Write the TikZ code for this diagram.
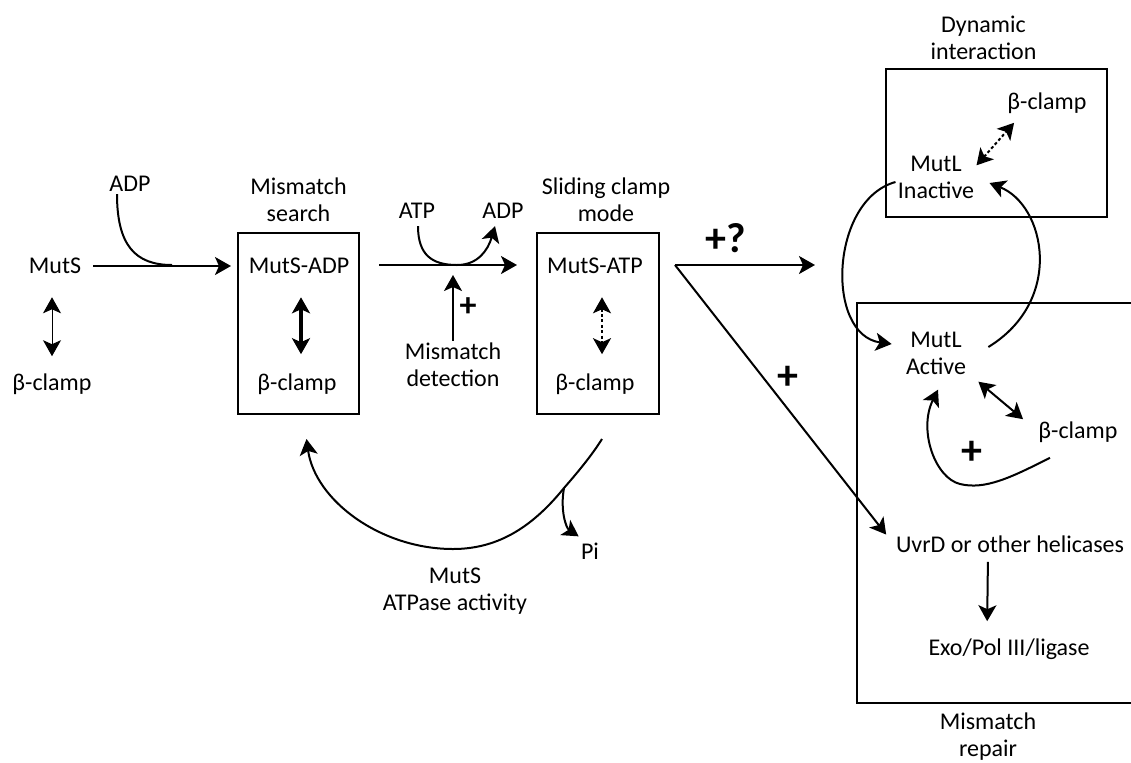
\documentclass[tikz,border=0pt]{standalone}
\usepackage{fontspec}
\setmainfont{Carlito}
\usetikzlibrary{arrows.meta,positioning,calc}

\begin{document}
\begin{tikzpicture}[x=0.5pt, y=-0.5pt,
  >={Stealth[length=8pt,width=9pt,inset=2pt]},
  every node/.style = {font=\fontsize{12}{13.5}\selectfont, align=center, inner sep=1pt},
  stage/.style = {draw, line width=1pt, minimum width=60.5pt, minimum height=90.5pt},
  flow/.style = {line width=1pt, ->},
  bind/.style = {line width=1pt, <->},
  weak/.style = {line width=1pt, <->, dash pattern=on 1.5pt off 1.2pt},
  sign/.style = {font=\fontsize{21}{22}\selectfont\bfseries},
  ]
  \useasboundingbox (0,0) rectangle (1131,762);

  % free MutS and clamp
  \node (muts) at (55,266) {MutS};
  \node (clamp0) at (52,384) {β-clamp};

  % mismatch search
  \node[stage] (search) at (298.5,323.5) {};
  \node[above=4pt of search] {Mismatch\\search};
  \node (mutsadp) at (299,266) {MutS-ADP};
  \node (clamp1) at (297,384) {β-clamp};

  \node (adp1) at (130,184) {ADP};
  \node (atp) at (417,211) {ATP};
  \node (adp2) at (503,211) {ADP};
  \node (detect) at (453,365) {Mismatch\\detection};

  % sliding clamp
  \node[stage, minimum width=61pt] (sliding) at (598,323.5) {};
  \node[above=4pt of sliding, xshift=4pt] {Sliding clamp\\mode};
  \node (mutsatp) at (595,266) {MutS-ATP};
  \node (clamp2) at (595,384) {β-clamp};

  \node[sign] at (726,238) {+?};
  \node[sign] at (788,378) {+};
  \node[sign, font=\fontsize{17}{18}\selectfont\bfseries] at (468,307) {+};

  % dynamic interaction
  \node[draw, line width=1pt, minimum width=110.5pt, minimum height=74pt] (dynamic) at (996.5,143) {};
  \node[above=3pt of dynamic, xshift=-6.5pt] {Dynamic\\interaction};
  \node (clamp3) at (1047,103) {β-clamp};
  \node (inactive) at (936,177) {MutL\\Inactive};

  % mismatch repair
  \node[draw, line width=1pt, minimum width=160pt, minimum height=200pt, anchor=north west] (repair) at (856,302) {};
  \node at (988,737) {Mismatch\\repair};
  \node (active) at (936,353) {MutL\\Active};
  \node (clamp4) at (1078,432) {β-clamp};
  \node[sign] at (972,453) {+};
  \node (uvrd) at (1010,544) {UvrD or other helicases};
  \node (exo) at (1009,649) {Exo/Pol III/ligase};

  % hydrolysis
  \node (pi) at (590,551) {Pi};
  \node (atpase) at (455,591) {MutS\\ATPase activity};

  \coordinate (j1) at (172,265);
  \coordinate (j2) at (457,265);
  \coordinate (fork) at (675,265);
  \coordinate (toward) at (815,265);
  \coordinate (hyd) at (564,488);

  \draw[line width=0.5pt, <->, shorten <=10.5pt, shorten >=7.5pt] (muts.south -| clamp0) -- (clamp0.north);
  \draw[flow, shorten <=5pt, shorten >=3pt] (muts.east) -- (muts.east -| search.west);
  \draw[line width=1pt] ([xshift=-6.5pt]adp1.south) .. controls (117,245) and (135,265) .. (j1);

  \draw[line width=2pt, <->, shorten <=10.5pt, shorten >=8.5pt] ([xshift=1pt]mutsadp.south) -- ([xshift=1pt]mutsadp.south |- clamp1.north);

  \draw[flow, shorten <=9.5pt, shorten >=9.5pt] (search.east |- j2) -- (sliding.west |- j2);
  \draw[flow] ([xshift=0.5pt,yshift=-2.5pt]atp.south) .. controls (418,255) and (432,265) .. (j2)
    .. controls (478,265) and (488,250) .. ([xshift=-4pt,yshift=-2.5pt]adp2.south);
  \draw[flow, shorten >=5pt] (detect.north) -- (detect.north |- j2);

  \draw[weak, shorten <=10.5pt, shorten >=8.5pt] ([xshift=3.5pt]mutsatp.south) -- ([xshift=3.5pt]mutsatp.south |- clamp2.north);

  \draw[flow] (fork) -- (toward);
  \draw[flow, shorten >=6pt] (fork) -- (uvrd.west);

  \draw[flow] ([xshift=2pt,yshift=-12pt]sliding.south) .. controls (592,455) and (578,472) .. (hyd)
    .. controls (530,530) and (495,549) .. (453,549)
    .. controls (380,549) and (315,500) .. ([xshift=4pt,yshift=-12pt]search.south);
  \draw[flow] (hyd) .. controls (560,510) and (566,528) .. ([yshift=2pt]pi.north west);

  \draw[weak] ([yshift=-6pt]inactive.north east) -- ([xshift=4.5pt,yshift=-3.5pt]clamp3.south west);
  \draw[flow] ([yshift=-2.5pt]inactive.west) .. controls (830,200) and (825,335) .. ([xshift=-6pt,yshift=4.5pt]active.west);
  \draw[flow] ([xshift=10pt,yshift=3pt]active.east) .. controls (1065,300) and (1045,205) .. ([xshift=6.5pt,yshift=-3pt]inactive.east);
  \draw[bind] ([xshift=5pt,yshift=-2.5pt]active.south east) -- ([xshift=-6.5pt]clamp4.north west);
  \draw[flow] ([xshift=-14pt,yshift=-6.5pt]clamp4.south) .. controls (1010,478) and (985,490) .. (960,484)
    .. controls (935,478) and (918,430) .. ([xshift=1pt,yshift=-6.5pt]active.south);
  \draw[flow, shorten <=3.5pt, shorten >=7.5pt] ([xshift=-11pt]uvrd.south) -- ([xshift=-11pt]exo.north);
\end{tikzpicture}
\end{document}
